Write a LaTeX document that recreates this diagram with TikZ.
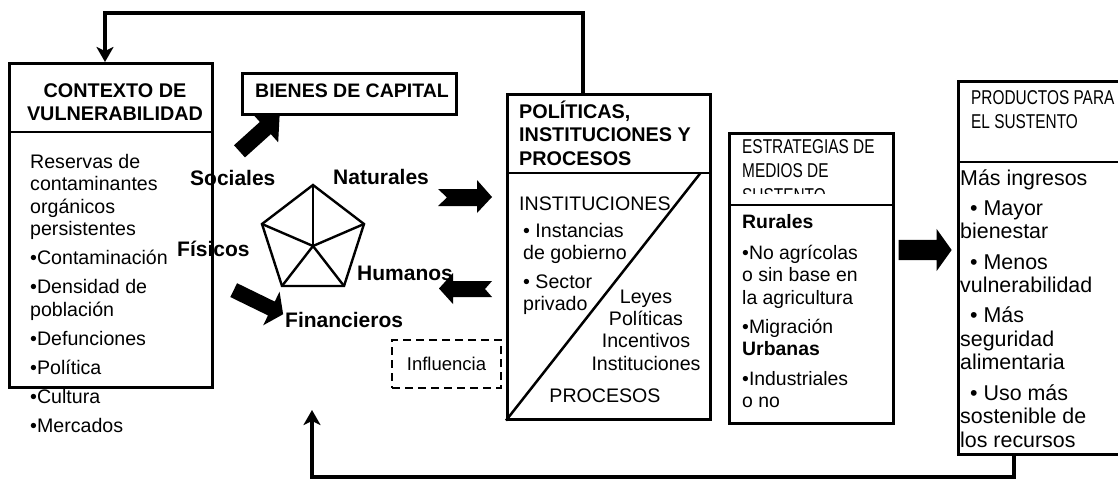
\documentclass[tikz,border=0pt]{standalone}
\usepackage{fontspec}
\setmainfont{Liberation Sans}
\newfontfamily\narrowfont[FakeStretch=0.77]{Liberation Sans}
\usetikzlibrary{arrows.meta,shapes.arrows}

\newcommand{\firstline}{\rule{0pt}{20pt}}

\begin{document}
\begin{tikzpicture}[x=1pt,y=-1pt,
    box/.style={draw, line width=2.5pt, anchor=north west, inner sep=0pt},
    rule/.style={line width=2.5pt},
    bodytext/.style={anchor=north west, inner sep=0pt, align=left, font=\fontsize{19.6}{22.5}\selectfont},
    headtext/.style={inner sep=0pt, font=\bfseries\fontsize{19.8}{23.4}\selectfont},
    narrowhead/.style={anchor=north west, inner sep=0pt, align=left, font=\narrowfont\fontsize{20}{24.5}\selectfont},
    capital/.style={anchor=base west, inner sep=0pt, font=\bfseries\fontsize{21}{24}\selectfont},
    blockarrow/.style={single arrow, fill=black, draw=none},
    feed/.style={line width=4pt},
    feedtip/.style={-{Stealth[length=15pt,width=17pt,inset=4pt]}}]
    \useasboundingbox (0,0) rectangle (1118,479);

    % boxes
    \node[box, minimum width=203pt, minimum height=324pt] (ctx) at (8,62) {};
    \node[box, minimum width=214pt, minimum height=41pt] (bienes) at (241,72) {};
    \node[box, minimum width=203pt, minimum height=325pt] (pol) at (506,93) {};
    \node[box, minimum width=164pt, minimum height=290pt] (estr) at (728,132) {};
    \node[box, minimum width=173pt, minimum height=373pt] (prod) at (957,80) {};
    \node[draw, dash pattern=on 8pt off 5pt, line width=2.4pt, minimum width=109pt, minimum height=48pt, inner sep=0pt, font=\fontsize{18.5}{22}\selectfont] (infl) at (446.5,364) {Influencia};

    \draw[rule] ([yshift=-70pt]ctx.north west) -- ([yshift=-70pt]ctx.north east);
    \draw[rule] ([yshift=-80pt]pol.north west) -- ([yshift=-80pt]pol.north east);
    \draw[rule] ([yshift=-73pt]estr.north west) -- ([yshift=-73pt]estr.north east);
    \draw[rule] ([yshift=-82pt]prod.north west) -- ([yshift=-82pt]prod.north east);
    \draw[rule] ([yshift=-80pt,xshift=-11pt]pol.north east) -- (pol.south west);

    % texts
    \node[headtext, anchor=north, align=center] (ctxhead) at (115,77) {\firstline CONTEXTO DE\\VULNERABILIDAD};
    \node[bodytext] (ctxbody) at (30,148) {\firstline Reservas de\\contaminantes\\orgánicos\\persistentes\\[6.5pt]
        \textbullet Contaminación\\[6.5pt]\textbullet Densidad de\\población\\[6.5pt]\textbullet Defunciones\\[6.5pt]
        \textbullet Política\\[6.5pt]\textbullet Cultura\\[6.5pt]\textbullet Mercados};
    \node[headtext, anchor=base west, font=\bfseries\fontsize{19.5}{23}\selectfont] (bienestxt) at (255,97) {BIENES DE CAPITAL};

    \node[headtext, anchor=north west, align=left] (polhead) at (519,98) {\firstline POLÍTICAS,\\INSTITUCIONES Y\\PROCESOS};
    \node[bodytext, anchor=base west] (inst) at (519,210) {INSTITUCIONES};
    \node[bodytext, font=\fontsize{19.6}{22}\selectfont] (instlist) at (523,217) {\firstline\textbullet\ Instancias\\de gobierno\\[7pt]\textbullet\ Sector\\privado};
    \node[bodytext, anchor=north, align=center, font=\fontsize{19.6}{22.3}\selectfont] (leyes) at (646,283) {\firstline Leyes\\Políticas\\Incentivos\\Instituciones};
    \node[bodytext, anchor=base] (proc) at (605,402) {PROCESOS};

    \begin{scope}
        \clip (728,132) rectangle (892,193);
        \node[narrowhead] (estrhead) at (742,133) {\firstline ESTRATEGIAS DE\\MEDIOS DE\\SUSTENTO};
    \end{scope}
    \node[bodytext, font=\fontsize{19.4}{22.3}\selectfont] (estrbody) at (742,208) {\firstline\textbf{Rurales}\\[9pt]
        \textbullet No agrícolas\\o sin base en\\la agricultura\\[7pt]\textbullet Migración\\\textbf{Urbanas}\\[7pt]
        \textbullet Industriales\\o no};

    \node[narrowhead] (prodhead) at (971,84) {\firstline PRODUCTOS PARA\\EL SUSTENTO};
    \node[bodytext, font=\fontsize{21.4}{23.6}\selectfont] (prodbody) at (960,165) {\firstline Más ingresos\\[6.5pt]
        \hspace*{10pt}\textbullet\ Mayor\\bienestar\\[6.5pt]\hspace*{10pt}\textbullet\ Menos\\vulnerabilidad\\[6.5pt]
        \hspace*{10pt}\textbullet\ Más\\seguridad\\alimentaria\\[6.5pt]\hspace*{10pt}\textbullet\ Uso más\\sostenible de\\los recursos};

    % capital labels
    \node[capital] (soc) at (190,185) {Sociales};
    \node[capital] (nat) at (333,184) {Naturales};
    \node[capital] (fis) at (177,256) {Físicos};
    \node[capital] (hum) at (357,280) {Humanos};
    \node[capital] (fin) at (285,327) {Financieros};

    % pentagon
    \coordinate (n1) at (313,185);
    \coordinate (n2) at (364,224);
    \coordinate (n3) at (344,286);
    \coordinate (n4) at (282,286);
    \coordinate (n5) at (262,224);
    \coordinate (hub) at (313,246);
    \draw[line width=2.4pt] (n1) -- (n2) -- (n3) -- (n4) -- (n5) -- cycle;
    \foreach \i in {1,...,5}
        \draw[line width=2.4pt] (hub) -- (n\i);

    % block arrows
    \node[blockarrow, rotate=42, minimum height=54pt, inner sep=8pt, single arrow head extend=11pt] (up) at (256.5,136) {};
    \node[blockarrow, rotate=-26, minimum height=55pt, inner sep=7.5pt, single arrow head extend=11pt, single arrow tip angle=110] (down) at (256,301) {};
    \node[blockarrow, minimum height=53pt, inner sep=10pt, single arrow head extend=11pt, single arrow tip angle=109] (out) at (921.5,250) {};
    \fill (438,189) -- (477,189) -- (477,180) -- (492,197) -- (477,213) -- (477,206) -- (438,206) -- (447,197.5) -- cycle;
    \fill (492,281) -- (453,281) -- (453,273) -- (439,288.5) -- (453,304) -- (453,297) -- (492,297) -- (485,289) -- cycle;

    % feedback lines
    \coordinate (topl) at (105,13);
    \coordinate (botl) at (312,477);
    \coordinate (botend) at (312,410);
    \draw[feed, feedtip] ([xshift=77pt]pol.north west) |- (topl) -- ([xshift=97pt]ctx.north west);
    \draw[feed, feedtip] ([xshift=57pt]prod.south west) |- (botl) -- (botend);
\end{tikzpicture}
\end{document}
